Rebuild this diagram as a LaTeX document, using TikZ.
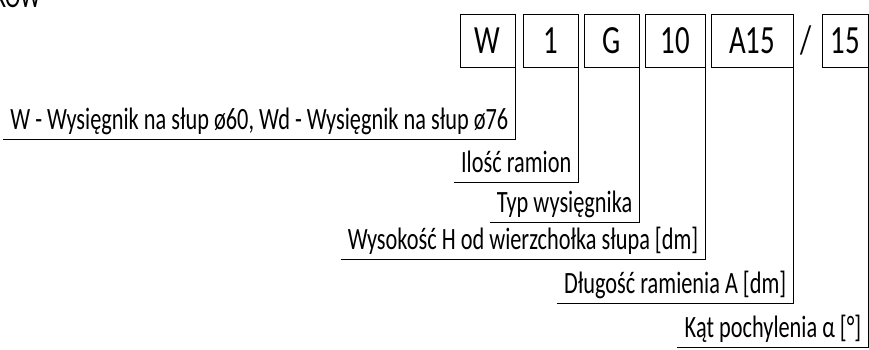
\documentclass[tikz,border=0pt]{standalone}
\usepackage{fontspec}
\setmainfont{Carlito}[FakeStretch=0.72]
\begin{document}
\begin{tikzpicture}[x=1pt,y=-1pt,
  codebox/.style={draw, line width=0.9pt, minimum height=53pt, inner sep=0pt, font=\fontsize{40}{40}\selectfont},
  codelabel/.style={anchor=south east, inner xsep=7pt, inner ysep=3pt, text depth=6pt, font=\fontsize{31}{31}\selectfont},
  lead/.style={line width=0.9pt}]
\useasboundingbox (0,0) rectangle (869,350);
% heading, cut at the top edge
\node[anchor=base west, inner sep=0pt, font=\fontsize{32}{32}\selectfont] (head) at (-6,8) {KÓW};
% code boxes
\node[codebox, minimum width=55pt] (boxW) at (487.5,40.5) {W};
\node[codebox, minimum width=55pt] (boxN) at (550.5,40.5) {1};
\node[codebox, minimum width=55pt] (boxG) at (611.5,40.5) {G};
\node[codebox, minimum width=60pt] (boxH) at (675,40.5) {10};
\node[codebox, minimum width=82pt] (boxA) at (752,40.5) {A15};
\node[font=\fontsize{40}{40}\selectfont] (slash) at (806,40.5) {/};
\node[codebox, minimum width=46pt] (boxK) at (845,40.5) {15};
% labels
\node[codelabel] (lblW) at (boxW.south east |- 0,139) {W - Wysięgnik na słup ø60, Wd - Wysięgnik na słup ø76};
\node[codelabel] (lblN) at (boxN.south east |- 0,182) {Ilość ramion};
\node[codelabel] (lblG) at (boxG.south east |- 0,222) {Typ wysięgnika};
\node[codelabel] (lblH) at (boxH.south east |- 0,259) {Wysokość H od wierzchołka słupa [dm]};
\node[codelabel] (lblA) at (boxA.south east |- 0,303) {Długość ramienia A [dm]};
\node[codelabel] (lblK) at (boxK.south east |- 0,347) {Kąt pochylenia α [°]};
% leaders
\foreach \b/\l in {boxW/lblW, boxN/lblN, boxG/lblG, boxH/lblH, boxA/lblA, boxK/lblK}
  \draw[lead] (\l.south west) -- (\l.south east) -- (\b.south east);
\end{tikzpicture}
\end{document}
